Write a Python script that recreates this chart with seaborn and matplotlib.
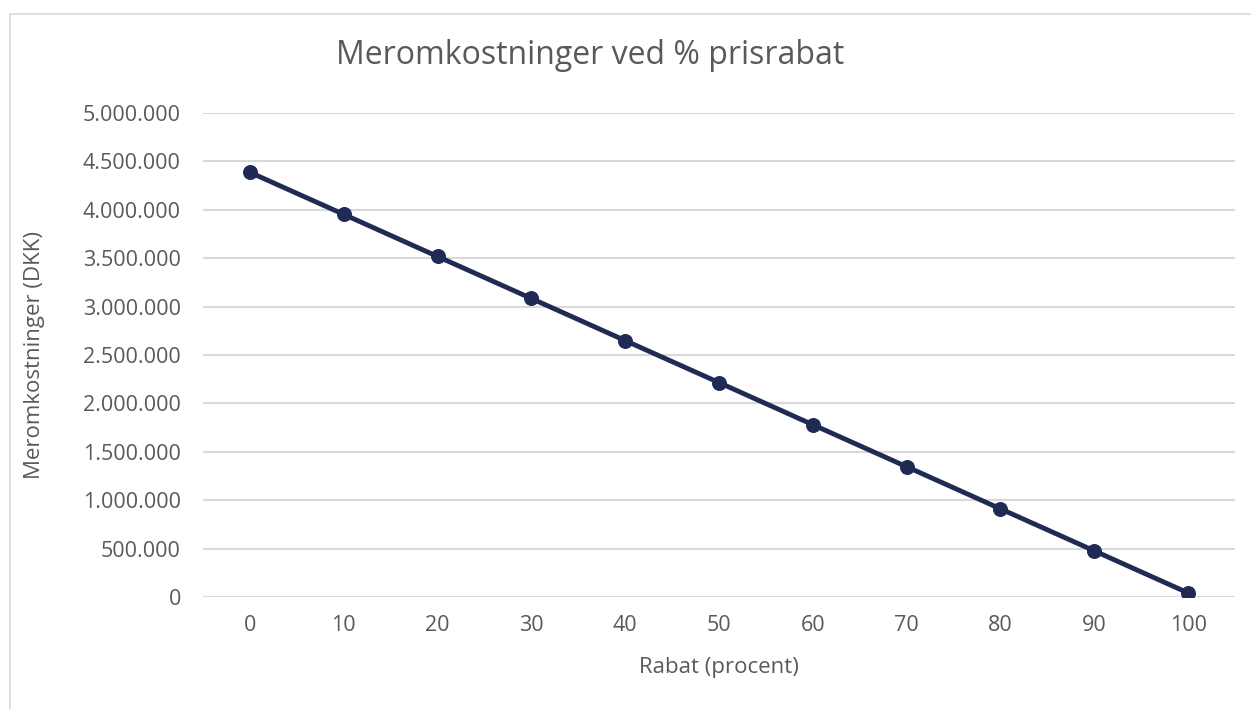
import numpy as np
import pandas as pd
import matplotlib
matplotlib.use('Agg')
import matplotlib.pyplot as plt
import seaborn as sns
from matplotlib.lines import Line2D
from matplotlib.ticker import FuncFormatter, MultipleLocator

# Data
rabat = [0, 10, 20, 30, 40, 50, 60, 70, 80, 90, 100]
meromkostninger = [4387000, 3953000, 3518000, 3084000, 2649000, 2215000,
                   1780000, 1346000, 911000, 477000, 42000]

title = 'Meromkostninger ved % prisrabat'
x_label = 'Rabat (procent)'
y_label = 'Meromkostninger (DKK)'

df = pd.DataFrame({'rabat': rabat, 'omk': meromkostninger})

sns.set_style('white')
plt.rcParams['font.family'] = ['Open Sans', 'DejaVu Sans']

text_col = '#595959'
grid_col = '#d9d9d9'
line_col = '#1f2a55'

W, H = 1251, 709
ax_h = 597 - 113
fig = plt.figure(figsize=(W / 100, H / 100), dpi=100)
ax = fig.add_axes([203 / W, (H - 597) / H, (1235 - 203) / W, ax_h / H])

sns.lineplot(data=df, x='rabat', y='omk', ax=ax, color=line_col, linewidth=3.5,
             marker='o', markersize=10, markeredgecolor=line_col, zorder=3)

ax.set_xlim(-5, 105)
ax.set_ylim(0, 5000000)
ax.xaxis.set_major_locator(MultipleLocator(10))
ax.yaxis.set_major_locator(MultipleLocator(500000))
ax.yaxis.set_major_formatter(FuncFormatter(lambda v, p: f'{int(v):,}'.replace(',', '.')))

ax.grid(axis='y', color=grid_col, linewidth=1.5)
ax.set_axisbelow(True)
for s in ax.spines.values():
    s.set_visible(False)
ax.tick_params(axis='both', length=0, labelsize=15.5, labelcolor=text_col)
ax.tick_params(axis='y', pad=16)
ax.tick_params(axis='x', pad=13)

ax.set_xlabel(x_label, fontsize=16, color=text_col, va='center')
ax.set_ylabel(y_label, fontsize=16, color=text_col, va='center')
ax.xaxis.set_label_coords(0.5, -(668 - 597) / ax_h)
ax.yaxis.set_label_coords(-(203 - 35) / (1235 - 203), 0.5)

fig.text(590 / W, 1 - 55 / H, title, ha='center', va='center',
         fontsize=23, color=text_col)

# light chart frame
fig.add_artist(Line2D([10 / W, 10 / W], [0, 1 - 14 / H], transform=fig.transFigure,
                      color=grid_col, linewidth=1.2))
fig.add_artist(Line2D([10 / W, 1], [1 - 14 / H, 1 - 14 / H], transform=fig.transFigure,
                      color=grid_col, linewidth=1.2))

fig.savefig('out.png', dpi=100)
